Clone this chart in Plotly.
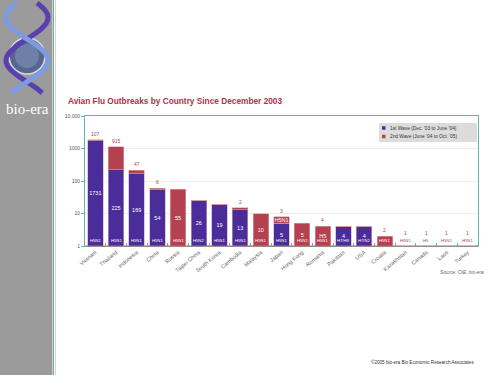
import math
import numpy as np
import plotly.graph_objects as go

# ---------------- data ----------------
countries = ["Vietnam", "Thailand", "Indonesia", "China", "Russia", "Taipei China",
             "South Korea", "Cambodia", "Malaysia", "Japan", "Hong Kong", "Romania",
             "Pakistan", "USA", "Croatia", "Kazakhstan", "Canada", "Laos", "Turkey"]
wave1 = [1731, 225, 169, 54, 0, 26, 19, 13, 0, 5, 0, 0, 4, 4, 0, 0, 0, 0, 0]
wave2 = [107, 915, 47, 6, 55, 0, 0, 2, 10, 3, 5, 4, 0, 0, 2, 1, 1, 1, 1]
wave1_labels = ["1731", "225", "169", "54", "", "26", "19", "13", "", "5", "", "", "4", "4",
                "", "", "", "", ""]
wave2_labels = ["", "", "", "", "55", "", "", "", "10", "H5N1", "5", "H5", "", "", "", "", "", "", ""]
top_labels = ["107", "915", "47", "6", "", "", "", "2", "", "3", "", "4", "", "", "2",
              "1", "1", "1", "1"]
strains = ["H5N1", "H5N1", "H5N1", "H5N1", "H5N1", "H5N2", "H5N1", "H5N1", "H5N1", "H5N1",
           "H5N1", "H5N1", "H7/H9", "H7/N2", "H5N1", "H5N1", "H5", "H5N1", "H5N1"]
ytick_vals = [1, 10, 100, 1000, 10000]
ytick_text = ["1", "10", "100", "1000", "10,000"]
legend_names = ["1st Wave (Dec. '03 to June '04)", "2nd Wave (June '04 to Oct. '05)"]

# ---------------- style ----------------
BLUE = "#4a2c9a"
RED = "#b3414f"
TEAL = "#62b5a8"
TITLE_RED = "#b02f48"
FONT = "Liberation Sans"
W, H = 500, 375
L, R, T, B = 85, 22, 116, 129
PW, PH = W - L - R, H - T - B


def px(x):
    return (x - L) / PW


def py(y):
    return (H - B - y) / PH


fig = go.Figure()
fig.add_bar(x=countries, y=wave1, name=legend_names[0], marker=dict(color=BLUE, line=dict(width=0.6, color="#c8a8c8")),
            text=wave1_labels, textposition="inside", insidetextanchor="middle", textangle=0,
            textfont=dict(color="white", size=5.5, family=FONT), showlegend=False)
fig.add_bar(x=countries, y=wave2, name=legend_names[1], marker=dict(color=RED, line=dict(width=0.6, color="#e0a0a8")),
            text=wave2_labels, textposition="inside", insidetextanchor="middle", textangle=0,
            textfont=dict(color="white", size=5.5, family=FONT), showlegend=False)

ann = []
for c, a, b, lab in zip(countries, wave1, wave2, top_labels):
    tot = a + b
    if lab:
        ann.append(dict(x=c, y=math.log10(tot), xref="x", yref="y", text=lab, showarrow=False,
                        yanchor="bottom", yshift=(8 if tot <= 1 else 1),
                        font=dict(size=5, color=RED, family=FONT)))
for c, a, b, s in zip(countries, wave1, wave2, strains):
    tot = a + b
    ann.append(dict(x=c, y=0, xref="x", yref="y", text=s, showarrow=False, yanchor="bottom", yshift=1,
                    font=dict(size=4.2, color=("white" if tot > 1 else RED), family=FONT)))

# title, source, copyright
ann.append(dict(x=px(66), y=py(101), xref="paper", yref="paper", xanchor="left", yanchor="middle",
                text="<b>Avian Flu Outbreaks by Country Since December 2003</b>", showarrow=False,
                font=dict(size=8.3, color=TITLE_RED, family=FONT)))
ann.append(dict(x=px(486), y=py(272), xref="paper", yref="paper", xanchor="right", yanchor="middle",
                text="<i>Source: OIE, bio-era</i>", showarrow=False, font=dict(size=4.8, color="#666", family=FONT)))
ann.append(dict(x=px(476), y=py(362), xref="paper", yref="paper", xanchor="right", yanchor="middle",
                text="©2005 bio-era Bio Economic Research Associates", showarrow=False,
                font=dict(size=4.6, color="#333", family=FONT)))
ann.append(dict(x=px(27), y=py(109), xref="paper", yref="paper", xanchor="center", yanchor="middle",
                text="bio-era", showarrow=False, font=dict(size=15, color="white", family="Liberation Serif")))

# custom legend
shapes = []
shapes.append(dict(type="rect", xref="paper", yref="paper", x0=px(379), x1=px(477), y0=py(142), y1=py(123),
                   fillcolor="#dcdcdc", line=dict(width=0), layer="above"))
for i, (nm, col) in enumerate(zip(legend_names, [BLUE, RED])):
    yc = 128 + i * 8.5
    shapes.append(dict(type="rect", xref="paper", yref="paper", x0=px(382), x1=px(385.5), y0=py(yc + 1.75),
                       y1=py(yc - 1.75), fillcolor=col, line=dict(width=0), layer="above"))
    ann.append(dict(x=px(388), y=py(yc), xref="paper", yref="paper", xanchor="left", yanchor="middle",
                    text=nm, showarrow=False, font=dict(size=4.8, color="#333", family=FONT)))

# left sidebar
shapes.append(dict(type="rect", xref="paper", yref="paper", x0=px(0), x1=px(52.5), y0=py(H), y1=py(0),
                   fillcolor="#9b9b9b", line=dict(width=0), layer="below"))
shapes.append(dict(type="line", xref="paper", yref="paper", x0=px(53.5), x1=px(53.5), y0=py(H), y1=py(0),
                   line=dict(color=TEAL, width=1)))
shapes.append(dict(type="line", xref="paper", yref="paper", x0=px(55.5), x1=px(55.5), y0=py(H), y1=py(0),
                   line=dict(color="#f0c8d0", width=1)))
# logo: globe + helix ribbons (decorative)
shapes.append(dict(type="circle", xref="paper", yref="paper", x0=px(9), x1=px(45), y0=py(74), y1=py(38),
                   fillcolor="#56668e", line=dict(color="#d8d8e8", width=1.5)))
shapes.append(dict(type="circle", xref="paper", yref="paper", x0=px(15), x1=px(39), y0=py(68), y1=py(44),
                   fillcolor="#8090b8", line=dict(width=0), opacity=0.6))
ts = np.linspace(0, 1, 40)
for phase, col in [(0, "#5a3fae"), (math.pi, "#7f9be0")]:
    xs = 27 + 21 * np.sin(2 * math.pi * 1.05 * ts + phase + 0.5)
    ys = 3 + 90 * ts
    path = "M " + " L ".join(f"{px(a):.5f},{py(b):.5f}" for a, b in zip(xs, ys))
    shapes.append(dict(type="path", xref="paper", yref="paper", path=path, line=dict(color=col, width=5)))
# red baseline
shapes.append(dict(type="line", xref="paper", yref="paper", x0=0, x1=1, y0=0, y1=0,
                   line=dict(color="#d06070", width=1)))

fig.update_layout(
    width=W, height=H, barmode="stack", bargap=0.25,
    margin=dict(l=L, r=R, t=T, b=B, autoexpand=False),
    paper_bgcolor="white", plot_bgcolor="white",
    font=dict(family=FONT, size=5, color="#555"),
    uniformtext=dict(mode="show", minsize=5),
    annotations=ann, shapes=shapes,
    xaxis=dict(tickangle=-40, tickfont=dict(size=5.5, color="#666"), showline=True, mirror=True,
               linecolor=TEAL, linewidth=1, ticks="inside", tickson="boundaries", ticklen=3,
               tickcolor=TEAL, showgrid=False),
    yaxis=dict(type="log", range=[0, 4], tickvals=ytick_vals, ticktext=ytick_text,
               tickfont=dict(size=5, color="#555"), showline=True, mirror=True, linecolor=TEAL,
               linewidth=1, ticks="outside", ticklen=3, tickcolor=TEAL, gridcolor="#ececec",
               zeroline=False),
)
fig.write_html("out.html", config={"displayModeBar": False},
               post_script="document.body.style.margin='0';document.body.style.padding='0';")
